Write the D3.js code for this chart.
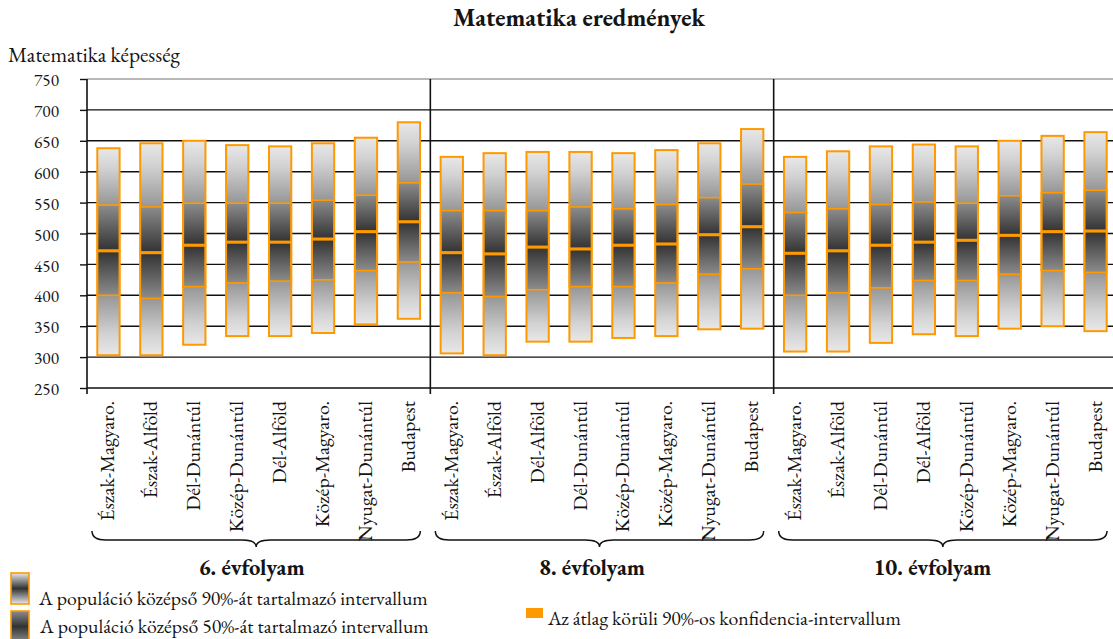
<!DOCTYPE html>
<html>
<head>
<meta charset="utf-8">
<script src="https://cdn.jsdelivr.net/npm/d3@7"></script>
<style>
  html, body { margin: 0; padding: 0; background: #fff; }
  svg { display: block; }
</style>
</head>
<body>
<svg id="chart" width="1113" height="639"></svg>
<script>
// ---------------- DATA ----------------
const title = "Matematika eredmények";
const yTitle = "Matematika képesség";
const grades = ["6. évfolyam", "8. évfolyam", "10. évfolyam"];
const regions6 = ["Észak-Magyaro.", "Észak-Alföld", "Dél-Dunántúl", "Közép-Dunántúl", "Dél-Alföld", "Közép-Magyaro.", "Nyugat-Dunántúl", "Budapest"];
const regions8 = ["Észak-Magyaro.", "Észak-Alföld", "Dél-Alföld", "Dél-Dunántúl", "Közép-Dunántúl", "Közép-Magyaro.", "Nyugat-Dunántúl", "Budapest"];
const regions10 = ["Észak-Magyaro.", "Észak-Alföld", "Dél-Dunántúl", "Dél-Alföld", "Közép-Dunántúl", "Közép-Magyaro.", "Nyugat-Dunántúl", "Budapest"];

// percentiles (5, 25, 75, 95) and mean, per grade
const p95_6  = [638, 646, 650, 643, 641, 646, 655, 680];
const p75_6  = [546, 543, 549, 549, 549, 554, 562, 582];
const mean_6 = [472, 469, 481, 486, 486, 491, 503, 519];
const p25_6  = [400, 395, 414, 420, 423, 425, 440, 454];
const p5_6   = [303, 303, 320, 334, 334, 339, 353, 362];

const p95_8  = [624, 630, 632, 632, 630, 635, 646, 669];
const p75_8  = [537, 537, 537, 543, 540, 547, 558, 580];
const mean_8 = [469, 467, 478, 475, 481, 483, 498, 511];
const p25_8  = [404, 398, 409, 414, 414, 420, 434, 443];
const p5_8   = [306, 303, 325, 325, 331, 334, 345, 346];

const p95_10  = [624, 633, 641, 644, 641, 650, 658, 664];
const p75_10  = [534, 540, 547, 551, 549, 561, 566, 570];
const mean_10 = [468, 472, 481, 486, 489, 497, 503, 504];
const p25_10  = [400, 404, 412, 424, 424, 434, 440, 437];
const p5_10   = [309, 309, 323, 337, 334, 346, 350, 342];

const ciHalfWidth = 2.5; // half-width of the 90% confidence interval around the mean
const yTicks = [250, 300, 350, 400, 450, 500, 550, 600, 650, 700, 750];

const legendLabels = [
  "A populáció középső 90%-át tartalmazó intervallum",
  "A populáció középső 50%-át tartalmazó intervallum",
  "Az átlag körüli 90%-os konfidencia-intervallum"
];

// ---------------- BUILD ROWS ----------------
const groupData = [
  {regions: regions6,  p95: p95_6,  p75: p75_6,  mean: mean_6,  p25: p25_6,  p5: p5_6},
  {regions: regions8,  p95: p95_8,  p75: p75_8,  mean: mean_8,  p25: p25_8,  p5: p5_8},
  {regions: regions10, p95: p95_10, p75: p75_10, mean: mean_10, p25: p25_10, p5: p5_10}
];
const rows = [];
groupData.forEach((g, gi) => {
  g.regions.forEach((r, i) => {
    rows.push({key: gi + "-" + i, grade: gi, region: r,
      p95: g.p95[i], p75: g.p75[i], mean: g.mean[i], p25: g.p25[i], p5: g.p5[i]});
  });
});

// ---------------- HELPERS ----------------
const FONT = "'EB Garamond', 'Liberation Serif', serif";
const TXT = "#141414";
function styleText(sel, size, bold) {
  return sel.style("font-family", FONT).style("font-size", size + "px")
    .style("font-weight", bold ? "bold" : "normal").attr("fill", TXT);
}
// choose a font size so that a sample string has the wanted width
const measurer = d3.select("#chart").append("text").attr("x", -1000).attr("y", -1000);
function fitSize(sample, width, bold) {
  styleText(measurer, 20, bold).text(sample);
  const w = measurer.node().getComputedTextLength();
  return 20 * width / w;
}

// ---------------- LAYOUT ----------------
const ORANGE = "#ff9900";
const svg = d3.select("#chart");
const margin = {left: 87, top: 79, right: -4, bottom: 251};
const W = 1113, H = 639;
const x = d3.scaleBand().domain(rows.map(d => d.key)).range([margin.left, W - margin.right]).padding(0);
const y = d3.scaleLinear().domain([250, 750]).range([H - margin.bottom, margin.top]);
const barW = x.bandwidth() * 0.52;

const sizeTitle = fitSize(title, 252, true);
const sizeYTitle = fitSize(yTitle, 172, false);
const sizeTick = fitSize("750", 25, false);
const sizeCat = fitSize("Észak-Magyaro.", 120, false);
const sizeGrade = fitSize(grades[0], 106, true);
const sizeLegend = fitSize(legendLabels[0], 389, false);

// gradients
const defs = svg.append("defs");
function grad(id, stops) {
  const lg = defs.append("linearGradient").attr("id", id)
    .attr("x1", 0).attr("y1", 0).attr("x2", 0).attr("y2", 1);
  stops.forEach(s => lg.append("stop").attr("offset", s[0]).attr("stop-color", s[1]));
}
const LIGHT = "#e8e8e8", MID = "#969696", MID2 = "#8c8c8c", DARK = "#323232";
grad("gTop", [[0, LIGHT], [0.35, "#d2d2d2"], [1, MID]]);
grad("gUp", [[0, MID2], [1, DARK]]);
grad("gDown", [[0, DARK], [1, MID2]]);
grad("gBot", [[0, MID], [0.65, "#d2d2d2"], [1, LIGHT]]);
grad("gLeg90", [[0, LIGHT], [0.5, DARK], [1, LIGHT]]);
grad("gLeg50", [[0, MID2], [0.5, DARK], [1, MID2]]);

// title
styleText(svg.append("text").attr("x", 579).attr("y", 26).attr("text-anchor", "middle"), sizeTitle, true).text(title);
styleText(svg.append("text").attr("x", 8).attr("y", 62), sizeYTitle, false).text(yTitle);

// grid lines
const plotL = margin.left, plotR = W - margin.right;
svg.append("g").selectAll("line").data(yTicks.filter(t => t > 250 && t < 750)).join("line")
  .attr("x1", plotL).attr("x2", plotR).attr("y1", d => y(d)).attr("y2", d => y(d))
  .attr("stroke", "#111").attr("stroke-width", 1.4);
svg.append("line").attr("x1", plotL).attr("x2", plotR).attr("y1", y(750)).attr("y2", y(750))
  .attr("stroke", "#b8b8b8").attr("stroke-width", 2);

// y axis
const yAxis = d3.axisLeft(y).tickValues(yTicks).tickSize(7).tickPadding(14);
const yg = svg.append("g").attr("transform", `translate(${plotL},0)`).call(yAxis);
yg.select(".domain").attr("stroke", "#111").attr("stroke-width", 1.6).attr("d", `M0,${y(750)}V${y(250) + 6}`);
yg.selectAll(".tick line").attr("stroke", "#111").attr("stroke-width", 1.4);
styleText(yg.selectAll(".tick text"), sizeTick, false).attr("dx", "-7").attr("dy", "0.38em");

// x axis baseline
svg.append("line").attr("x1", plotL).attr("x2", plotR).attr("y1", y(250)).attr("y2", y(250))
  .attr("stroke", "#111").attr("stroke-width", 1.6);

// group separators
const groupStarts = grades.map((g, gi) => x(gi + "-0"));
const groupEnds = grades.map((g, gi) => x(gi + "-7") + x.bandwidth());
svg.append("g").selectAll("line").data(groupStarts.slice(1)).join("line")
  .attr("x1", d => d).attr("x2", d => d).attr("y1", y(750)).attr("y2", y(250) + 6)
  .attr("stroke", "#111").attr("stroke-width", 1.6);

// bars
const bars = svg.append("g").selectAll("g").data(rows).join("g")
  .attr("transform", d => `translate(${x(d.key) + x.bandwidth() / 2 - barW / 2},0)`);
bars.append("rect").attr("width", barW).attr("y", d => y(d.p95)).attr("height", d => y(d.p75) - y(d.p95)).attr("fill", "url(#gTop)");
bars.append("rect").attr("width", barW).attr("y", d => y(d.p75)).attr("height", d => y(d.mean) - y(d.p75)).attr("fill", "url(#gUp)");
bars.append("rect").attr("width", barW).attr("y", d => y(d.mean)).attr("height", d => y(d.p25) - y(d.mean)).attr("fill", "url(#gDown)");
bars.append("rect").attr("width", barW).attr("y", d => y(d.p25)).attr("height", d => y(d.p5) - y(d.p25)).attr("fill", "url(#gBot)");
bars.append("rect").attr("width", barW).attr("y", d => y(d.p95)).attr("height", d => y(d.p5) - y(d.p95))
  .attr("fill", "none").attr("stroke", ORANGE).attr("stroke-width", 2);
bars.append("rect").attr("width", barW).attr("y", d => y(d.p75)).attr("height", d => y(d.p25) - y(d.p75))
  .attr("fill", "none").attr("stroke", ORANGE).attr("stroke-width", 1.6);
bars.append("rect").attr("x", -0.5).attr("width", barW + 1).attr("y", d => y(d.mean + ciHalfWidth))
  .attr("height", d => y(d.mean - ciHalfWidth) - y(d.mean + ciHalfWidth)).attr("fill", ORANGE);

// category labels
styleText(svg.append("g").selectAll("text").data(rows).join("text")
  .attr("transform", d => `translate(${x(d.key) + x.bandwidth() / 2},${y(250) + 13}) rotate(-90)`)
  .attr("text-anchor", "end").attr("dy", "0.3em"), sizeCat, false).text(d => d.region);

// braces
function bracePath(x0, x1, y0, y1, y2) {
  const m = (x0 + x1) / 2, r = 14;
  return `M${x0},${y0} Q${x0},${y1} ${x0 + r},${y1} L${m - r},${y1} Q${m},${y1} ${m},${y2}` +
         ` Q${m},${y1} ${m + r},${y1} L${x1 - r},${y1} Q${x1},${y1} ${x1},${y0}`;
}
svg.append("g").selectAll("path").data(grades).join("path")
  .attr("d", (g, i) => bracePath(groupStarts[i] + 5, groupEnds[i] - 10, 531, 540, 547))
  .attr("fill", "none").attr("stroke", "#111").attr("stroke-width", 1.5);
styleText(svg.append("g").selectAll("text").data(grades).join("text")
  .attr("x", (g, i) => (groupStarts[i] + groupEnds[i]) / 2 - 7 - i * 3).attr("y", 575)
  .attr("text-anchor", "middle"), sizeGrade, true).text(g => g);

// legend
const leg = svg.append("g");
leg.append("rect").attr("x", 11).attr("y", 573).attr("width", 18).attr("height", 31)
  .attr("fill", "url(#gLeg90)").attr("stroke", ORANGE).attr("stroke-width", 1.6);
leg.append("rect").attr("x", 11).attr("y", 611).attr("width", 18).attr("height", 31)
  .attr("fill", "url(#gLeg50)").attr("stroke", ORANGE).attr("stroke-width", 1.6);
leg.append("rect").attr("x", 526).attr("y", 608).attr("width", 17).attr("height", 10).attr("fill", ORANGE);
styleText(leg.append("text").attr("x", 39).attr("y", 605), sizeLegend, false).text(legendLabels[0]);
styleText(leg.append("text").attr("x", 40).attr("y", 633), sizeLegend, false).text(legendLabels[1]);
styleText(leg.append("text").attr("x", 548).attr("y", 625), sizeLegend, false).text(legendLabels[2]);
measurer.remove();
</script>
</body>
</html>
